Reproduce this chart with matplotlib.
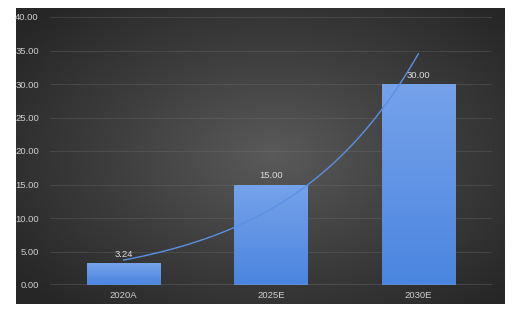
import numpy as np
import matplotlib
matplotlib.use("Agg")
from matplotlib import pyplot as plt
from matplotlib.colors import LinearSegmentedColormap

plt.rcParams['font.family'] = ['Liberation Sans', 'DejaVu Sans']

categories = ["2020A", "2025E", "2030E"]
values = [3.24, 15.00, 30.00]
y_ticks = [0, 5, 10, 15, 20, 25, 30, 35, 40]

W, H = 520, 314
fig = plt.figure(figsize=(W / 100, H / 100), dpi=100)
fig.patch.set_facecolor("white")

# dark panel with radial gradient
px0, px1, py0, py1 = 16, 505, 8, 304
bg_ax = fig.add_axes([px0 / W, 1 - py1 / H, (px1 - px0) / W, (py1 - py0) / H])
bg_ax.set_axis_off()
gx, gy = np.meshgrid(np.linspace(-1, 1, 300), np.linspace(-1, 1, 200))
r = np.sqrt(((gx - 0.05) * 0.95) ** 2 + (gy * 0.9) ** 2)
r = np.clip(r / 1.25, 0, 1)
bg_cmap = LinearSegmentedColormap.from_list("bg", ["#5a5a5a", "#3e3e3e", "#262626"])
bg_ax.imshow(r, cmap=bg_cmap, aspect="auto", extent=[0, 1, 0, 1], vmin=0, vmax=1)
bg_ax.set_xlim(0, 1)
bg_ax.set_ylim(0, 1)

# plot area
ax0, ax1, ay0, ay1 = 50, 492, 17, 285
ax = fig.add_axes([ax0 / W, 1 - ay1 / H, (ax1 - ax0) / W, (ay1 - ay0) / H])
ax.patch.set_alpha(0)

for y in y_ticks[1:]:
    ax.axhline(y, color="#707070", lw=0.6, alpha=0.4, zorder=1)
ax.axhline(0, color="#a8a8a8", lw=1.0, zorder=4)

bar_cmap = LinearSegmentedColormap.from_list("bar", ["#4a85df", "#76a2ea"])
grad = np.linspace(0, 1, 256).reshape(-1, 1)
x = np.arange(len(categories))
bars = ax.bar(x, values, width=0.5, color="#5d93e6", zorder=2)
for b in bars:
    bx, bw, bh = b.get_x(), b.get_width(), b.get_height()
    im = ax.imshow(grad, cmap=bar_cmap, origin="lower", aspect="auto",
                   extent=[bx, bx + bw, 0, bh], zorder=2.5)
    im.set_clip_path(b)
ax.set_xlim(-0.5, 2.5)
ax.set_ylim(0, 40)

for xi, v in zip(x, values):
    ax.text(xi, v + 0.6, "%.2f" % v, ha="center", va="bottom",
            color="#dcdcdc", fontsize=6.8, zorder=5)

# exponential trendline
coef = np.polyfit(x, np.log(values), 1)
xt = np.linspace(0, 2, 100)
ax.plot(xt, np.exp(np.polyval(coef, xt)), color="#5b90e2", lw=1.0, zorder=3)

ax.set_yticks(y_ticks)
ax.set_yticklabels(["%.2f" % t for t in y_ticks])
ax.set_xticks(x)
ax.set_xticklabels(categories)
ax.tick_params(axis="both", length=0, colors="#d0d0d0", labelsize=6.8)
ax.tick_params(axis="y", pad=8)
ax.tick_params(axis="x", pad=4)
for s in ax.spines.values():
    s.set_visible(False)

fig.savefig("out.png", dpi=100, facecolor="white")
